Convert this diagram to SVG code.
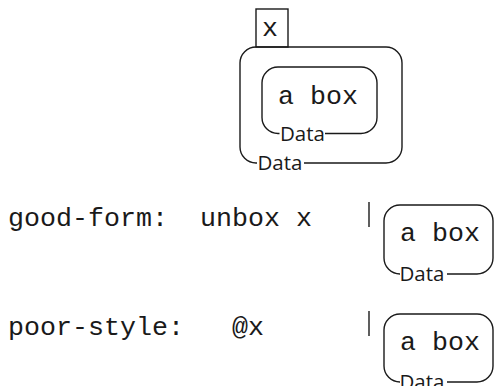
<svg xmlns="http://www.w3.org/2000/svg" width="495" height="386" viewBox="0 0 495 386">
<style>
.bx{fill:none;stroke:#1a1a1a;stroke-width:1.4}
.mono{font-family:"Liberation Mono","Courier New",monospace;font-size:26.67px;fill:#1a1a1a;white-space:pre}
.lbl{font-family:"Open Sans","Noto Sans",sans-serif;font-size:20.5px;fill:#1a1a1a}
</style>
<rect width="495" height="386" fill="#fff"/>
<g id="connectors">
<line class="bx" x1="369" y1="202" x2="369" y2="227"/>
<line class="bx" x1="369" y1="311" x2="369" y2="336"/>
</g>
<g id="x-box">
<rect class="bx" x="256" y="9" width="32" height="38"/>
<text class="mono" x="262" y="36">x</text>
</g>
<g id="outer-data">
<path class="bx" d="M304,163 H386 A16,16 0 0 0 402,147 V63 A16,16 0 0 0 386,47 H256 A16,16 0 0 0 240,63 V147 A16,16 0 0 0 256,163 H257"/>
<text class="lbl" x="257.5" y="170">Data</text>
</g>
<g id="inner-data">
<path class="bx" d="M325,133.5 H361 A16,16 0 0 0 377,117.5 V83 A16,16 0 0 0 361,67 H278 A16,16 0 0 0 262,83 V117.5 A16,16 0 0 0 278,133.5 H279.5"/>
<text class="mono" x="278" y="104">a box</text>
<text class="lbl" x="280" y="140.5">Data</text>
</g>
<g id="good-form">
<text class="mono" x="8" y="226" xml:space="preserve">good-form:  unbox x</text>
</g>
<g id="good-box">
<path class="bx" d="M447,274 H477 A16,16 0 0 0 493,258 V221 A16,16 0 0 0 477,205 H400 A16,16 0 0 0 384,221 V258 A16,16 0 0 0 400,274 H399"/>
<text class="mono" x="400" y="241">a box</text>
<text class="lbl" x="399.5" y="281">Data</text>
</g>
<g id="poor-style">
<text class="mono" x="8" y="335" xml:space="preserve">poor-style:   @x</text>
</g>
<g id="poor-box">
<path class="bx" d="M447,382 H477 A16,16 0 0 0 493,366 V330 A16,16 0 0 0 477,314 H400 A16,16 0 0 0 384,330 V366 A16,16 0 0 0 400,382 H399"/>
<text class="mono" x="400" y="350">a box</text>
<text class="lbl" x="399.5" y="389">Data</text>
</g>
</svg>
